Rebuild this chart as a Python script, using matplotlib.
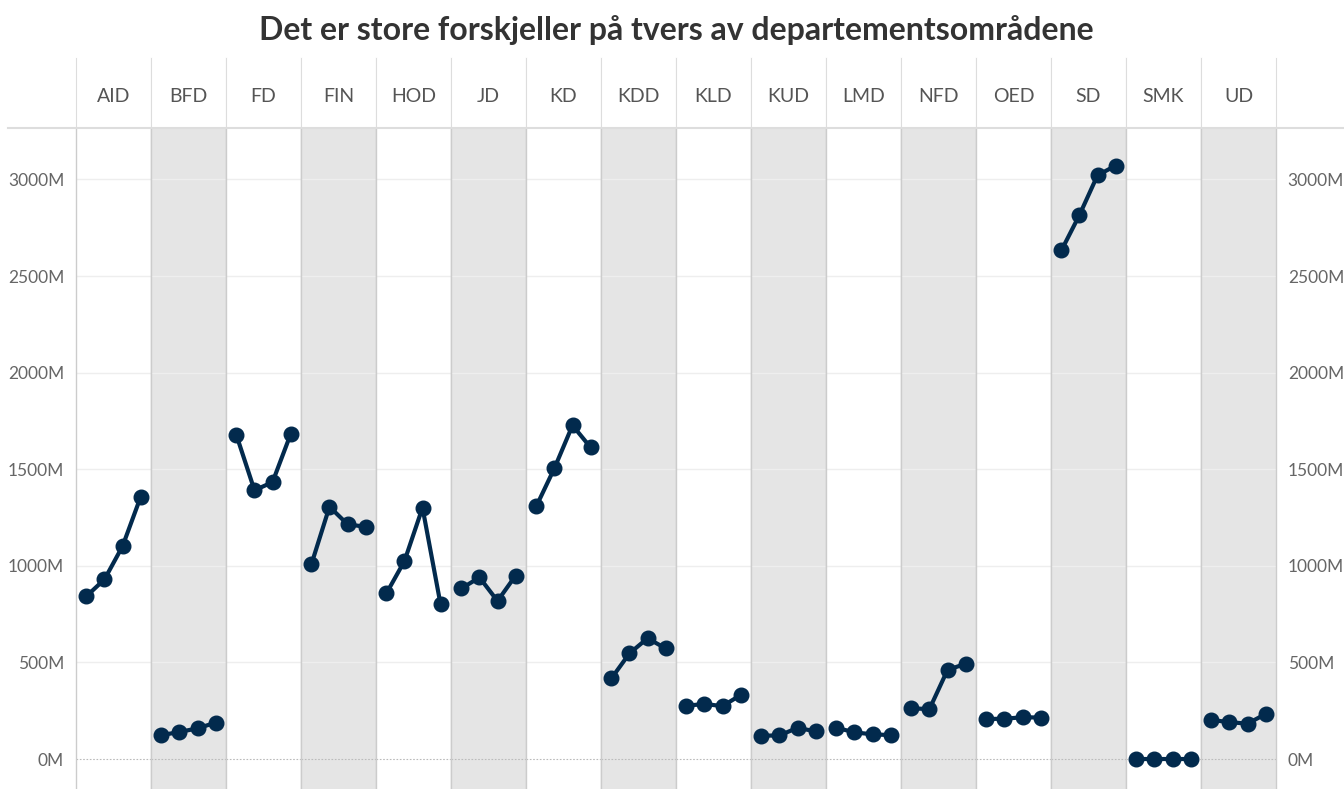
import matplotlib
matplotlib.use("Agg")
import matplotlib.pyplot as plt
from matplotlib.lines import Line2D
from matplotlib.ticker import FuncFormatter

plt.rcParams['font.family'] = ['Lato', 'DejaVu Sans']

# data (millioner kr), fire år per departement
departementer = ["AID", "BFD", "FD", "FIN", "HOD", "JD", "KD", "KDD",
                 "KLD", "KUD", "LMD", "NFD", "OED", "SD", "SMK", "UD"]
aar = [0, 1, 2, 3]
verdier = {
    "AID": [843, 930, 1101, 1355],
    "BFD": [124, 140, 159, 188],
    "FD":  [1676, 1391, 1433, 1680],
    "FIN": [1009, 1306, 1215, 1202],
    "HOD": [858, 1025, 1301, 801],
    "JD":  [883, 940, 818, 949],
    "KD":  [1310, 1506, 1727, 1613],
    "KDD": [418, 547, 625, 573],
    "KLD": [276, 285, 274, 331],
    "KUD": [121, 122, 162, 143],
    "LMD": [162, 138, 128, 124],
    "NFD": [262, 259, 461, 493],
    "OED": [207, 209, 216, 215],
    "SD":  [2633, 2816, 3021, 3071],
    "SMK": [2, 2, 2, 2],
    "UD":  [202, 191, 183, 233],
}
yticks = [0, 500, 1000, 1500, 2000, 2500, 3000]

W, H = 1344, 789
fig = plt.figure(figsize=(W / 100, H / 100), dpi=100)

gs = fig.add_gridspec(2, len(departementer), left=76 / W, right=1276 / W,
                      bottom=0, top=1 - 58 / H, height_ratios=[70, 661],
                      wspace=0, hspace=0)

linjefarge = "#022a4d"
fmt = FuncFormatter(lambda v, p: f"{int(v)}M")

for i, dep in enumerate(departementer):
    # header
    hax = fig.add_subplot(gs[0, i])
    hax.set_xticks([]); hax.set_yticks([])
    for s in ["top", "bottom"]:
        hax.spines[s].set_visible(False)
    for s in ["left", "right"]:
        hax.spines[s].set_color("#dddddd")
    hax.text(0.5, 0.45, dep, ha="center", va="center", fontsize=14,
             color="#555555", transform=hax.transAxes)

    ax = fig.add_subplot(gs[1, i])
    ax.set_facecolor("#e5e5e5" if i % 2 == 1 else "white")
    ax.set_xlim(-0.58, 3.58)
    ax.set_ylim(-155, 3266)
    ax.set_xticks([])
    ax.set_yticks(yticks)
    ax.yaxis.set_major_formatter(fmt)
    for y in yticks[1:]:
        ax.axhline(y, color="#eeeeee", lw=1, zorder=0)
    ax.axhline(0, color="#bbbbbb", lw=0.8, ls=(0, (1.5, 1.5)), zorder=0)
    for s in ["top", "bottom"]:
        ax.spines[s].set_visible(False)
    for s in ["left", "right"]:
        ax.spines[s].set_color("#cccccc")
        ax.spines[s].set_linewidth(1)
    ax.plot(aar, verdier[dep], color=linjefarge, lw=3, marker="o",
            markersize=10.5, zorder=3)
    ax.tick_params(left=False, right=False, labelleft=(i == 0),
                   labelright=(i == len(departementer) - 1),
                   labelsize=12.5, labelcolor="#666666", pad=5)

# horisontal linje under overskriftene
fig.add_artist(Line2D([8 / W, 1], [1 - 128 / H, 1 - 128 / H],
                      color="#dddddd", lw=1.5, transform=fig.transFigure))

fig.text(676 / W, 1 - 30 / H, "Det er store forskjeller på tvers av departementsområdene",
         ha="center", va="center", fontsize=23, fontweight="bold", color="#333333")

fig.savefig("out.png", dpi=100)
